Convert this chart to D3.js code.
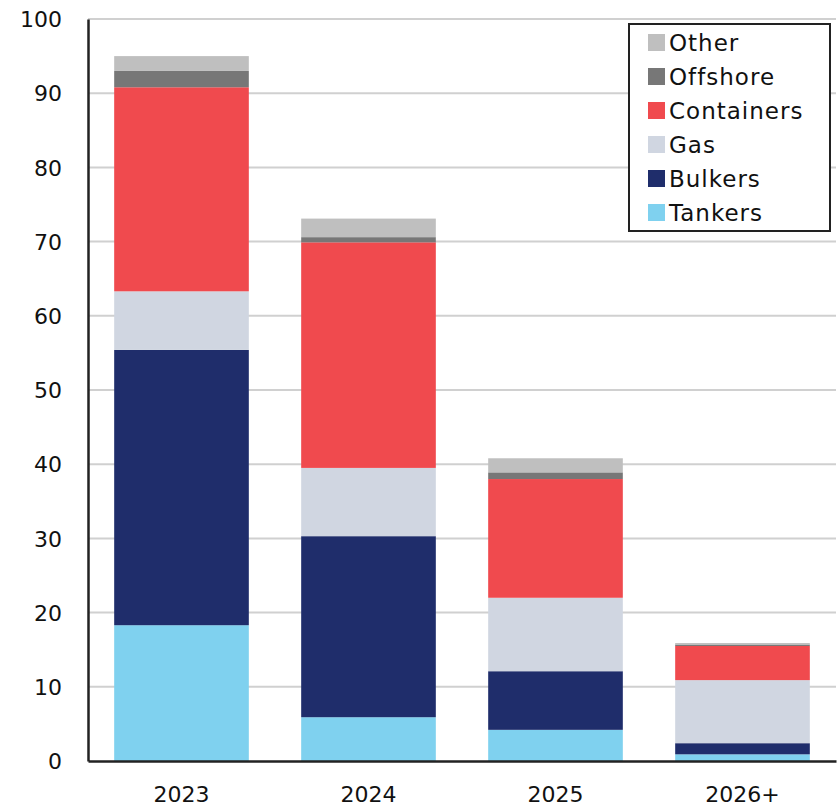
<!DOCTYPE html>
<html>
<head>
<meta charset="utf-8">
<script src="https://cdn.jsdelivr.net/npm/d3@7"></script>
<style>
  body { margin: 0; background: #fff; }
  svg text { font-family: "DejaVu Sans", sans-serif; fill: #111; }
</style>
</head>
<body>
<svg id="chart" width="838" height="809"></svg>
<script>
const years = ['2023', '2024', '2025', '2026+'];
const seriesNames = ['Tankers', 'Bulkers', 'Gas', 'Containers', 'Offshore', 'Other'];
const tankers = [18.3, 5.9, 4.2, 0.9];
const bulkers = [37.1, 24.4, 7.9, 1.5];
const gas = [7.9, 9.2, 9.9, 8.5];
const containers = [27.5, 30.4, 16.0, 4.6];
const offshore = [2.2, 0.7, 0.9, 0.2];
const other = [2.0, 2.5, 1.9, 0.2];
const yTicks = [0, 10, 20, 30, 40, 50, 60, 70, 80, 90, 100];

const colors = ['#7fd1ef', '#1f2d6b', '#d0d6e1', '#f04a4e', '#777777', '#bfbfbf'];

const rows = years.map((y, i) => ({
  year: y,
  Tankers: tankers[i],
  Bulkers: bulkers[i],
  Gas: gas[i],
  Containers: containers[i],
  Offshore: offshore[i],
  Other: other[i]
}));

const margin = {top: 19, right: 2, bottom: 48, left: 88},
      width = 838 - margin.left - margin.right,
      height = 809 - margin.top - margin.bottom;

const svg = d3.select('#chart');
const chart = svg.append('g')
  .attr('transform', `translate(${margin.left}, ${margin.top})`);

const x = d3.scaleBand().domain(years).range([0, width]).paddingInner(0.28).paddingOuter(0.14);
const y = d3.scaleLinear().domain([0, 100]).range([height, 0]);

// gridlines
chart.append('g')
  .selectAll('line')
  .data(yTicks.slice(1))
  .enter()
    .append('line')
    .attr('x1', 0).attr('x2', width)
    .attr('y1', d => y(d)).attr('y2', d => y(d))
    .attr('stroke', '#d0d0d0')
    .attr('stroke-width', 2);

const stacked = d3.stack().keys(seriesNames)(rows);

chart.append('g')
  .selectAll('g')
  .data(stacked)
  .enter()
    .append('g')
    .attr('fill', (d, i) => colors[i])
  .selectAll('rect')
  .data(d => d)
  .enter()
    .append('rect')
    .attr('x', d => x(d.data.year))
    .attr('width', x.bandwidth())
    .attr('y', d => y(d[1]))
    .attr('height', d => y(d[0]) - y(d[1]));

// y axis
const yAxis = chart.append('g')
  .call(d3.axisLeft(y).tickValues(yTicks).tickSize(0).tickPadding(26));
yAxis.select('.domain').attr('stroke', '#222').attr('stroke-width', 2.5);
yAxis.selectAll('text').style('font-size', '22px').attr('dy', '0.35em');

// x axis
const xAxis = chart.append('g')
  .attr('transform', `translate(0, ${height})`)
  .call(d3.axisBottom(x).tickSize(0).tickPadding(25));
xAxis.select('.domain').attr('stroke', '#222').attr('stroke-width', 2.5);
xAxis.selectAll('text').style('font-size', '22px');

// legend
const legend = svg.append('g').attr('transform', 'translate(629, 24)');
legend.append('rect')
  .attr('width', 201).attr('height', 207)
  .attr('fill', '#fff')
  .attr('stroke', '#222')
  .attr('stroke-width', 2);

const legendItems = seriesNames.slice().reverse();
const item = legend.selectAll('g.item')
  .data(legendItems)
  .enter()
    .append('g')
    .attr('class', 'item')
    .attr('transform', (d, i) => `translate(19, ${19 + i * 34})`);

item.append('rect')
  .attr('x', 0).attr('y', -9)
  .attr('width', 17).attr('height', 17)
  .attr('fill', d => colors[seriesNames.indexOf(d)]);

item.append('text')
  .attr('x', 21)
  .attr('dy', '0.35em')
  .style('font-size', '23px')
  .style('letter-spacing', '1px')
  .text(d => d);
</script>
</body>
</html>
